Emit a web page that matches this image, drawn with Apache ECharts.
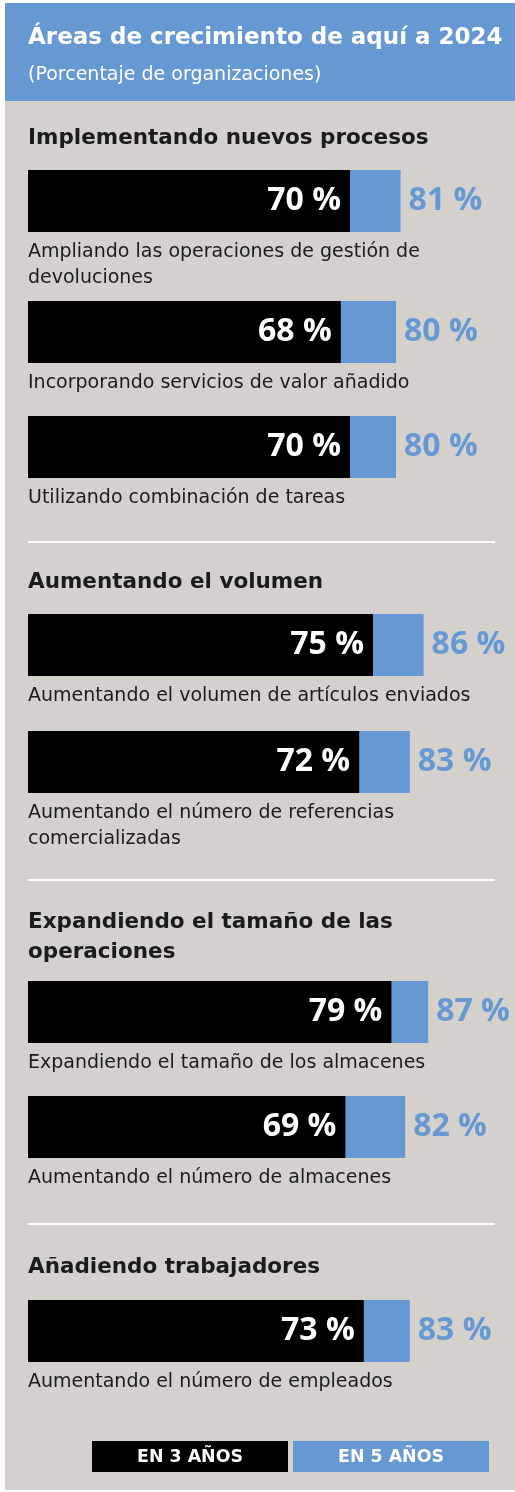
<!DOCTYPE html>
<html>
<head>
<meta charset="utf-8">
<script src="https://cdn.jsdelivr.net/npm/echarts@6/dist/echarts.min.js"></script>
<style>
  html, body { margin: 0; padding: 0; background: #ffffff; }
  #chart { width: 515px; height: 1492px; }
</style>
</head>
<body>
<div id="chart"></div>
<script>
// ---------- data ----------
const chartTitle = 'Áreas de crecimiento de aquí a 2024';
const chartSubtitle = '(Porcentaje de organizaciones)';
const sections = [
  'Implementando nuevos procesos',
  'Aumentando el volumen',
  'Expandiendo el tamaño de las\noperaciones',
  'Añadiendo trabajadores'
];
const categories = [
  'Ampliando las operaciones de gestión de\ndevoluciones',
  'Incorporando servicios de valor añadido',
  'Utilizando combinación de tareas',
  'Aumentando el volumen de artículos enviados',
  'Aumentando el número de referencias\ncomercializadas',
  'Expandiendo el tamaño de los almacenes',
  'Aumentando el número de almacenes',
  'Aumentando el número de empleados'
];
const in3Years = [70, 68, 70, 75, 72, 79, 69, 73];
const in5Years = [81, 80, 80, 86, 83, 87, 82, 83];
const seriesNames = ['EN 3 AÑOS', 'EN 5 AÑOS'];

// ---------- layout ----------
const barTops = [170, 301, 416, 614, 731, 981, 1096, 1300];
const headingBaselines = [145.3, 589.3, 929.3, 1274.3];
const separatorYs = [542, 880, 1224];
const BAR_H = 62, PLOT_LEFT = 28, PLOT_W = 460;
const BLUE = '#6699D3', GRAY = '#D4D1CC', INK = '#1b1b1b';
const TXT_FONT = '"DejaVu Sans", sans-serif';
const NUM_FONT = '"Open Sans", sans-serif';

const chart = echarts.init(document.getElementById('chart'), null, { renderer: 'canvas' });

function textLines(str, x, baseline, size, weight, color, lineH) {
  return str.split('\n').map((ln, k) => ({
    type: 'text', x: x, y: baseline + k * lineH - size * 0.34, z: 10,
    style: { text: ln, fill: color, font: weight + ' ' + size + 'px ' + TXT_FONT,
             align: 'left', verticalAlign: 'middle' }
  }));
}

const grids = [], xAxes = [], yAxes = [], series = [];
barTops.forEach((top, i) => {
  grids.push({ left: PLOT_LEFT, top: top, width: PLOT_W, height: BAR_H });
  xAxes.push({ gridIndex: i, type: 'value', min: 0, max: 100, show: false });
  yAxes.push({ gridIndex: i, type: 'category', data: [categories[i]], show: false });
  series.push({
    name: seriesNames[1], type: 'bar', xAxisIndex: i, yAxisIndex: i,
    data: [in5Years[i]], barWidth: BAR_H, barGap: '-100%',
    itemStyle: { color: BLUE }, silent: true,
    label: { show: true, position: 'right', distance: 8, formatter: '{c} %',
             color: BLUE, fontFamily: NUM_FONT, fontWeight: 'bold', fontSize: 32 }
  });
  series.push({
    name: seriesNames[0], type: 'bar', xAxisIndex: i, yAxisIndex: i,
    data: [in3Years[i]], barWidth: BAR_H, barGap: '-100%',
    itemStyle: { color: '#000000' }, silent: true,
    label: { show: true, position: 'insideRight', distance: 9, formatter: '{c} %',
             color: '#ffffff', fontFamily: NUM_FONT, fontWeight: 'bold', fontSize: 32 }
  });
});

const graphics = [
  { type: 'rect', shape: { x: 5, y: 3, width: 510, height: 1487 }, style: { fill: GRAY }, z: -10 },
  { type: 'rect', shape: { x: 5, y: 3, width: 510, height: 98 }, style: { fill: BLUE }, z: -5 }
];
graphics.push(...textLines(chartTitle, 28, 45.7, 23, 'bold', '#ffffff', 28));
graphics.push(...textLines(chartSubtitle, 28, 81.7, 19, 'normal', '#ffffff', 22));
sections.forEach((s, j) => {
  graphics.push(...textLines(s, 28, headingBaselines[j], 21.5, 'bold', INK, 30));
});
categories.forEach((c, i) => {
  graphics.push(...textLines(c, 28, barTops[i] + BAR_H + 27, 19, 'normal', INK, 25.5));
});
separatorYs.forEach(y => {
  graphics.push({ type: 'rect', shape: { x: 28, y: y - 1, width: 467, height: 2 }, style: { fill: '#ffffff' } });
});
// legend
const legendBoxes = [{ x: 92, fill: '#000000' }, { x: 293, fill: BLUE }];
seriesNames.forEach((n, k) => {
  graphics.push({ type: 'rect', shape: { x: legendBoxes[k].x, y: 1441, width: 196, height: 31 }, style: { fill: legendBoxes[k].fill } });
  graphics.push({ type: 'text', x: legendBoxes[k].x + 98, y: 1457, z: 10,
    style: { text: n, fill: '#ffffff', font: 'bold 17.4px ' + TXT_FONT, align: 'center', verticalAlign: 'middle' } });
});

chart.setOption({
  animation: false,
  grid: grids, xAxis: xAxes, yAxis: yAxes, series: series,
  graphic: graphics
});
</script>
</body>
</html>
